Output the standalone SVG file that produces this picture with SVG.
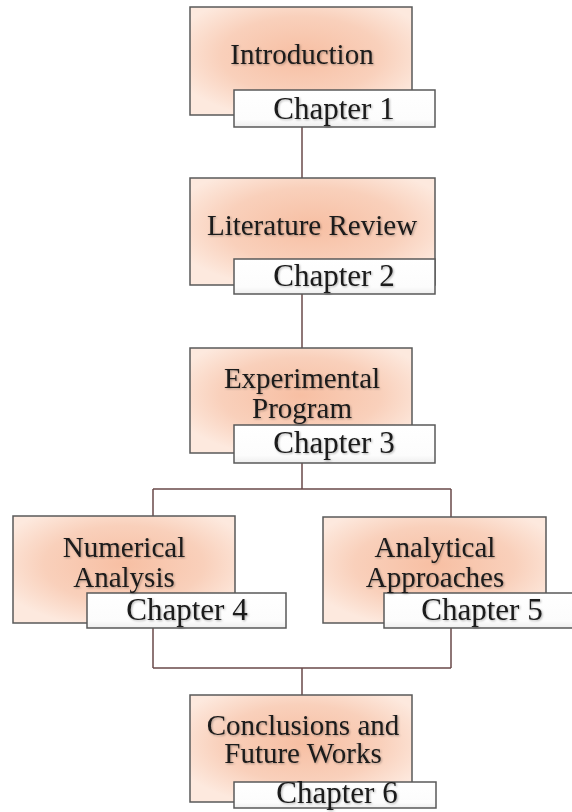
<svg xmlns="http://www.w3.org/2000/svg" width="572" height="812" viewBox="0 0 572 812">
<defs>
<radialGradient id="peach" cx="0.5" cy="0.45" r="0.6">
<stop offset="0" stop-color="#f7bfa3"/>
<stop offset="0.6" stop-color="#f9d0bb"/>
<stop offset="1" stop-color="#fde9de"/>
</radialGradient>
<linearGradient id="tabg" x1="0" y1="0" x2="0" y2="1">
<stop offset="0" stop-color="#ffffff"/>
<stop offset="0.8" stop-color="#fcfcfc"/>
<stop offset="1" stop-color="#eeeeee"/>
</linearGradient>
<filter id="sh" x="-5%" y="-10%" width="110%" height="130%">
<feDropShadow dx="1" dy="1" stdDeviation="0.8" flood-color="#000" flood-opacity="0.3"/>
</filter>
</defs>
<style>
.box{fill:url(#peach);stroke:#595959;stroke-width:1.5}
.tab{fill:url(#tabg);stroke:#595959;stroke-width:1.5}
.t{font-family:"Liberation Serif","Times New Roman",serif;font-size:29px;fill:#1a1a1a;text-anchor:middle;filter:url(#sh)}
.c{font-family:"Liberation Serif","Times New Roman",serif;font-size:31px;fill:#1a1a1a;text-anchor:middle;filter:url(#sh)}
.ln{fill:none;stroke:#6a4a4a;stroke-width:1.5}
</style>
<rect width="572" height="812" fill="#ffffff"/>
<g id="connectors">
<path class="ln" d="M302 127V178"/>
<path class="ln" d="M302 294V348"/>
<path class="ln" d="M302 463V489M153 489H451M153 489V516M451 489V517"/>
<path class="ln" d="M153 628V668M451 628V668M153 668H451M302 668V695"/>
</g>
<g id="n1">
<rect class="box" x="190" y="7" width="222" height="108"/>
<rect class="tab" x="234" y="90" width="201" height="37"/>
<text class="t" x="302" y="64">Introduction</text>
<text class="c" x="334" y="119">Chapter 1</text>
</g>
<g id="n2">
<rect class="box" x="190" y="178" width="245" height="107"/>
<rect class="tab" x="234" y="259" width="201" height="35"/>
<text class="t" x="312" y="235">Literature Review</text>
<text class="c" x="334" y="286">Chapter 2</text>
</g>
<g id="n3">
<rect class="box" x="190" y="348" width="222" height="105"/>
<rect class="tab" x="234" y="425" width="201" height="38"/>
<text class="t" x="302" y="388">Experimental</text>
<text class="t" x="302" y="418">Program</text>
<text class="c" x="334" y="453">Chapter 3</text>
</g>
<g id="n4">
<rect class="box" x="13" y="516" width="222" height="107"/>
<rect class="tab" x="87" y="593" width="199" height="35"/>
<text class="t" x="124" y="557">Numerical</text>
<text class="t" x="124" y="587">Analysis</text>
<text class="c" x="187" y="620">Chapter 4</text>
</g>
<g id="n5">
<rect class="box" x="323" y="517" width="223" height="106"/>
<rect class="tab" x="384" y="593" width="196" height="35"/>
<text class="t" x="435" y="557">Analytical</text>
<text class="t" x="435" y="587">Approaches</text>
<text class="c" x="482" y="620">Chapter 5</text>
</g>
<g id="n6">
<rect class="box" x="190" y="695" width="222" height="107"/>
<rect class="tab" x="234" y="782" width="202" height="26"/>
<text class="t" x="303" y="735">Conclusions and</text>
<text class="t" x="303" y="763">Future Works</text>
<text class="c" x="337" y="803">Chapter 6</text>
</g>
</svg>
